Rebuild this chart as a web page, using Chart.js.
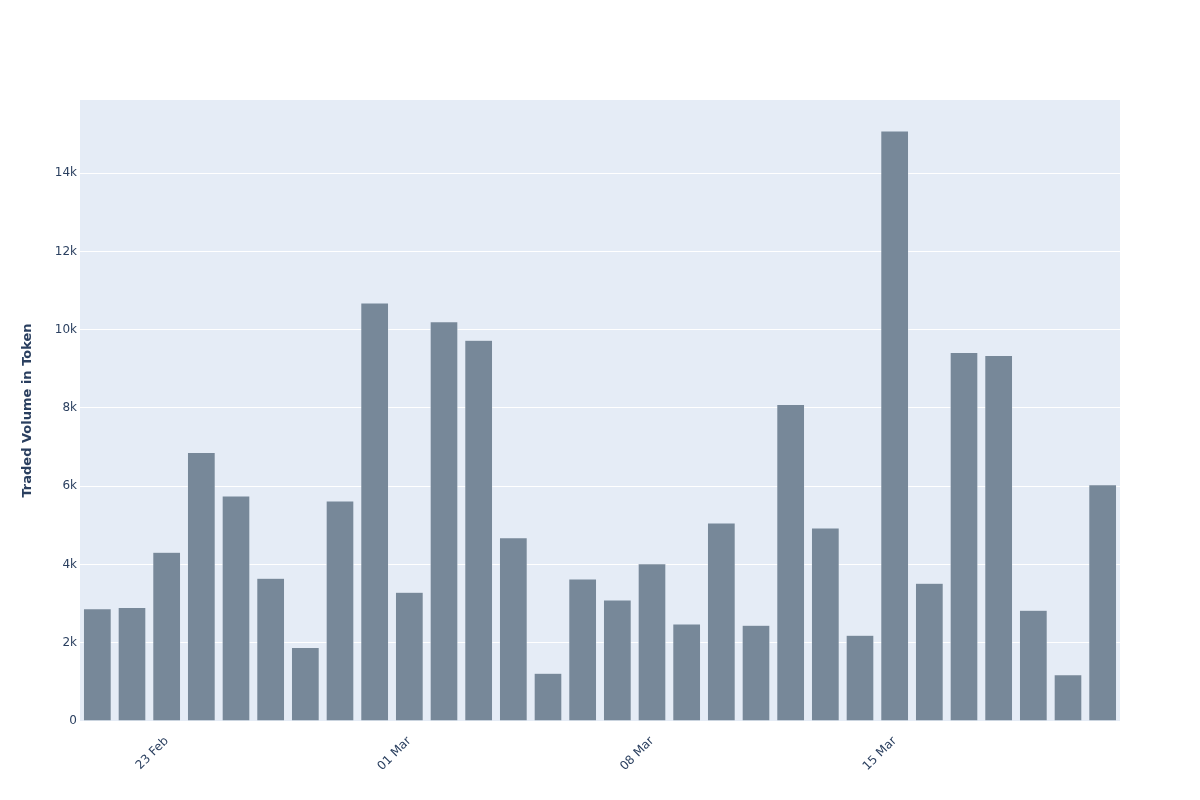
<!DOCTYPE html>
<html>
<head>
<meta charset="utf-8">
<script src="https://cdn.jsdelivr.net/npm/chart.js@4/dist/chart.umd.min.js"></script>
<style>
  html, body { margin: 0; padding: 0; background: #ffffff; }
  #wrap { width: 1200px; height: 800px; }
</style>
</head>
<body>
<div id="wrap"><canvas id="volume_Chart" width="1200" height="800"></canvas></div>
<script>
/* DATA */
let day_labels = [
  "21 Feb", "22 Feb", "23 Feb", "24 Feb", "25 Feb", "26 Feb", "27 Feb", "28 Feb", "29 Feb",
  "01 Mar", "02 Mar", "03 Mar", "04 Mar", "05 Mar", "06 Mar", "07 Mar", "08 Mar", "09 Mar",
  "10 Mar", "11 Mar", "12 Mar", "13 Mar", "14 Mar", "15 Mar", "16 Mar", "17 Mar", "18 Mar",
  "19 Mar", "20 Mar", "21 Mar"
];
let traded_volume = [
  2870, 2900, 4310, 6860, 5750, 3650, 1880, 5620, 10680,
  3290, 10200, 9730, 4680, 1220, 3630, 3090, 4020, 2480,
  5060, 2450, 8090, 4930, 2190, 15080, 3520, 9420, 9340,
  2830, 1180, 6040
];
let shown_tick_labels = ["23 Feb", "01 Mar", "08 Mar", "15 Mar"];
let y_tick_values = [0, 2000, 4000, 6000, 8000, 10000, 12000, 14000];

/* PLOT BACKGROUND */
const plotBg = {
  id: 'plotBg',
  beforeDraw(chart) {
    const a = chart.chartArea;
    const ctx = chart.ctx;
    ctx.save();
    ctx.fillStyle = '#e5ecf6';
    ctx.fillRect(a.left, a.top, a.right - a.left, a.bottom - a.top);
    ctx.restore();
  }
};

/* CHART SETTING */
const chart_dom = document.getElementById('volume_Chart').getContext('2d');

const volumeChart = new Chart(chart_dom, {
  type: 'bar',
  data: {
    labels: day_labels,
    datasets: [
      {
        label: 'Traded Volume',
        data: traded_volume,
        backgroundColor: '#778899',
        borderColor: '#e5ecf6',
        borderWidth: 0.5,
        barPercentage: 0.8,
        categoryPercentage: 1.0
      }
    ]
  },
  options: {
    responsive: false,
    animation: false,
    layout: { padding: { left: 0, right: 80, top: 100, bottom: 0 } },
    plugins: {
      legend: { display: false },
      tooltip: { enabled: false }
    },
    scales: {
      x: {
        grid: { display: false },
        border: { display: false },
        ticks: {
          autoSkip: false,
          maxRotation: 45,
          minRotation: 45,
          padding: 5,
          color: '#2a3f5f',
          font: { family: '"DejaVu Sans", Verdana, sans-serif', size: 12 },
          callback: function (value) {
            const lab = this.getLabelForValue(value);
            return shown_tick_labels.includes(lab) ? lab : '';
          }
        },
        afterFit: function (scale) { scale.height = 79; }
      },
      y: {
        min: 0,
        max: 15870,
        grid: { color: '#ffffff', lineWidth: 1, drawTicks: false },
        border: { display: false },
        afterBuildTicks: function (scale) {
          scale.ticks = y_tick_values.map(v => ({ value: v }));
        },
        ticks: {
          padding: 3,
          color: '#2a3f5f',
          font: { family: '"DejaVu Sans", Verdana, sans-serif', size: 12 },
          callback: function (value) {
            return value === 0 ? '0' : (value / 1000) + 'k';
          }
        },
        title: {
          display: true,
          text: 'Traded Volume in Token',
          color: '#2a3f5f',
          font: { family: '"DejaVu Sans", Verdana, sans-serif', size: 13, weight: 'bold' },
          padding: { top: 20, bottom: 0 }
        },
        afterFit: function (scale) { scale.width = 80; }
      }
    }
  },
  plugins: [plotBg]
});
</script>
</body>
</html>
